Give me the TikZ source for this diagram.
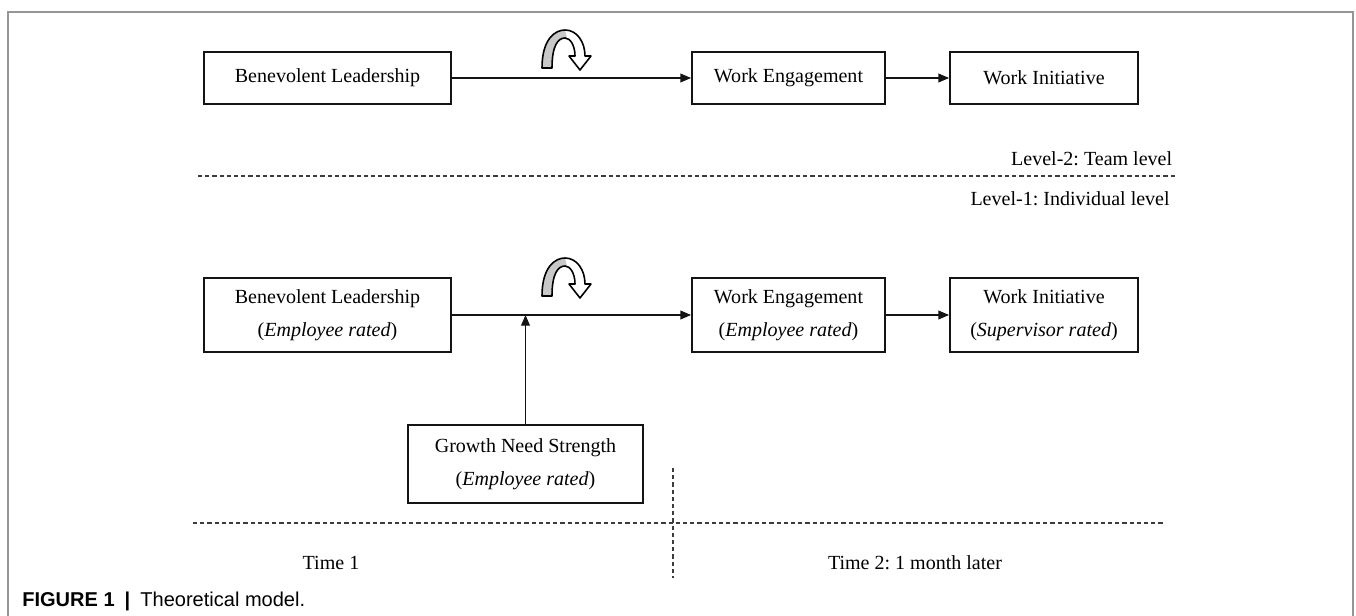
\documentclass[tikz,border=0pt]{standalone}
\usepackage{fontspec}
\setmainfont{Liberation Serif}
\newfontfamily\capfont{Liberation Sans}
\usepackage{tikz}
\usetikzlibrary{arrows.meta, positioning, calc}
\frenchspacing
\definecolor{mydark}{RGB}{20,20,20}
\definecolor{mgframe}{RGB}{150,150,150}
\definecolor{mydash}{RGB}{60,60,60}
\definecolor{turngray}{RGB}{200,200,200}
\tikzset{
  block/.style={rectangle, draw=mydark, fill=white, align=center,
    minimum height=1.04cm, font=\fontsize{11.4}{19}\selectfont,
    line width=1.1pt, inner sep=2pt},
  tallblock/.style={block, minimum height=1.48cm},
  arrow/.style={-{Triangle[length=6pt,width=5pt]}, line width=0.6pt, color=mydark},
  divider/.style={dash pattern=on 2.4pt off 1.7pt, line width=0.6pt, color=mydash},
  lvltext/.style={font=\fontsize{11.4}{13}\selectfont, inner sep=0pt},
  turn/.pic={
    \fill[turngray] (-0.46,0) .. controls (-0.46,0.58) and (-0.20,0.76) .. (0,0.76)
      -- (0.04,0.60) .. controls (-0.14,0.60) and (-0.26,0.45) .. (-0.26,0) -- cycle;
    \draw[line width=0.9pt, line join=round] (-0.46,0) .. controls (-0.46,0.58) and (-0.20,0.76) .. (0,0.76)
      .. controls (0.24,0.76) and (0.40,0.52) .. (0.40,0.24) -- (0.52,0.24)
      -- (0.30,-0.04) -- (0.08,0.24) -- (0.20,0.24)
      .. controls (0.20,0.46) and (0.10,0.60) .. (0,0.60)
      .. controls (-0.14,0.60) and (-0.26,0.45) .. (-0.26,0) -- cycle;
  }
}
\begin{document}
\begin{tikzpicture}
  \useasboundingbox (0,0) rectangle (27.12,12.32);
  \draw[mgframe, line width=0.9pt] (0.16,0) -- (0.16,12.08) -- (27.06,12.08) -- (27.06,0);

  % Level 2
  \node[block, minimum width=4.94cm] (bl1) at (6.55,10.76) {Benevolent Leadership};
  \node[block, minimum width=3.86cm] (we1) at (15.77,10.76) {Work Engagement};
  \node[block, minimum width=3.76cm] (wi1) at (20.88,10.76) {Work Initiative};
  \draw[arrow] (bl1) -- (we1);
  \draw[arrow] (we1) -- (wi1);
  \pic at (11.30,10.96) {turn};

  \node[lvltext, anchor=east] (lv2) at (23.45,9.14) {Level-2: Team level};
  \draw[divider] (3.96,8.80) -- (23.50,8.80);
  \node[lvltext, anchor=east] (lv1) at (23.40,8.34) {Level-1: Individual level};

  % Level 1
  \node[tallblock, minimum width=4.94cm] (bl2) at (6.55,6.02)
    {Benevolent Leadership\\(\textit{Employee rated})};
  \node[tallblock, minimum width=3.86cm] (we2) at (15.77,6.02)
    {Work Engagement\\(\textit{Employee rated})};
  \node[tallblock, minimum width=3.76cm] (wi2) at (20.88,6.02)
    {Work Initiative\\(\textit{Supervisor rated})};
  \node[tallblock, minimum width=4.70cm, minimum height=1.56cm] (gns) at (10.51,3.04)
    {Growth Need Strength\\(\textit{Employee rated})};
  \coordinate (jn) at (gns.north |- bl2.east);
  \draw[arrow] (bl2) -- (we2);
  \draw[arrow] (we2) -- (wi2);
  \draw[arrow] (gns) -- (jn);
  \pic at (11.30,6.40) {turn};

  % time split
  \draw[divider] (3.86,1.86) -- (23.30,1.86);
  \draw[divider] (13.46,2.96) -- (13.46,0.76);
  \node[lvltext] (t1) at (6.62,1.06) {Time 1};
  \node[lvltext] (t2) at (18.30,1.06) {Time 2: 1 month later};

  \node[anchor=west, inner sep=0pt, font=\capfont\fontsize{11.4}{13}\selectfont] (cap) at (0.44,0.30)
    {\textbf{FIGURE 1}\enspace\textbf{|}\enspace Theoretical model.};
\end{tikzpicture}
\end{document}
